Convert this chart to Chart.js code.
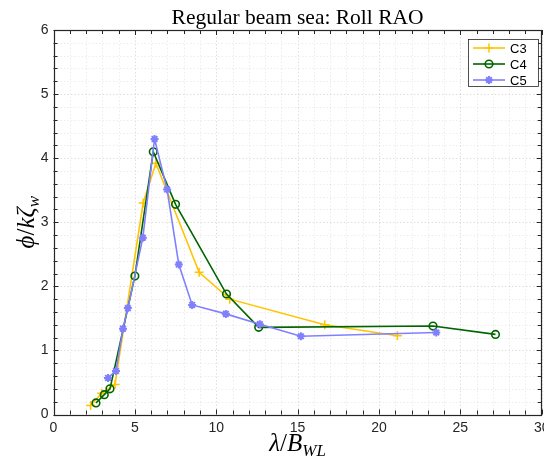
<!DOCTYPE html>
<html>
<head>
<meta charset="utf-8">
<script src="https://cdn.jsdelivr.net/npm/chart.js@4/dist/chart.umd.min.js"></script>
<style>
  html, body { margin: 0; padding: 0; background: #fff; }
  #wrap { width: 544px; height: 460px; }
</style>
</head>
<body>
<div id="wrap"><canvas id="c" width="544" height="460"></canvas></div>
<script>
// Roll RAO in regular beam sea, three configurations
const seriesNames = ['C3', 'C4', 'C5'];

const c3X = [2.28, 2.96, 3.78, 5.51, 6.29, 8.95, 10.83, 16.67, 21.13];
const c3Y = [0.14, 0.33, 0.47, 3.30, 3.92, 2.22, 1.80, 1.40, 1.23];

const c4X = [2.61, 3.12, 3.47, 5.00, 6.13, 7.50, 10.63, 12.61, 23.32, 27.16];
const c4Y = [0.18, 0.31, 0.40, 2.16, 4.10, 3.28, 1.88, 1.36, 1.38, 1.25];

const c5X = [3.35, 3.84, 4.27, 4.57, 5.49, 6.21, 6.98, 7.70, 8.52, 10.59, 12.68, 15.20, 23.52];
const c5Y = [0.57, 0.68, 1.34, 1.66, 2.76, 4.30, 3.51, 2.34, 1.71, 1.57, 1.41, 1.22, 1.28];

const xTicks = [0, 5, 10, 15, 20, 25, 30];
const yTicks = [0, 1, 2, 3, 4, 5, 6];
const xMinorStep = 1;
const yMinorStep = 0.2;

const titleText = 'Regular beam sea: Roll RAO';

const AXIS = '#262626';
const SANS = '"Liberation Sans", Arial, sans-serif';
const SERIF = '"Liberation Serif", "DejaVu Serif", serif';

function pts(xs, ys) { return xs.map((x, i) => ({ x: x, y: ys[i] })); }

const styles = [
  { color: 'rgb(255,196,0)', pointStyle: 'cross', radius: 4.5, pw: 1.5, fill: false },
  { color: 'rgb(0,100,0)',   pointStyle: 'circle', radius: 3.8, pw: 1.6, fill: false },
  { color: 'rgb(128,128,255)', pointStyle: 'star', radius: 4, pw: 2, fill: true }
];
const seriesData = [pts(c3X, c3Y), pts(c4X, c4Y), pts(c5X, c5Y)];

const datasets = seriesNames.map((name, i) => ({
  label: name,
  data: seriesData[i],
  borderColor: styles[i].color,
  backgroundColor: styles[i].fill ? styles[i].color : 'rgba(0,0,0,0)',
  pointBorderColor: styles[i].color,
  pointBackgroundColor: styles[i].fill ? styles[i].color : 'rgba(0,0,0,0)',
  borderWidth: 1.6,
  pointStyle: styles[i].pointStyle,
  pointRadius: styles[i].radius,
  pointBorderWidth: styles[i].pw,
  pointHoverRadius: styles[i].radius,
  tension: 0,
  fill: false,
  order: 3 - i
}));

function range(min, max, step) {
  const out = [];
  for (let v = min; v <= max + 1e-9; v += step) out.push(Math.round(v * 1000) / 1000);
  return out;
}

const framePlugin = {
  id: 'frame',
  beforeDatasetsDraw(chart) {
    const { ctx, chartArea: a, scales: { x, y } } = chart;
    ctx.save();
    ctx.lineWidth = 0.8;
    ctx.setLineDash([1.5, 2]);
    // minor grid
    ctx.strokeStyle = 'rgba(0,0,0,0.09)';
    range(0, 30, xMinorStep).forEach(v => {
      if (xTicks.includes(v)) return;
      const px = Math.round(x.getPixelForValue(v)) + 0.5;
      ctx.beginPath(); ctx.moveTo(px, a.top); ctx.lineTo(px, a.bottom); ctx.stroke();
    });
    range(0, 6, yMinorStep).forEach(v => {
      if (yTicks.includes(v)) return;
      const py = Math.round(y.getPixelForValue(v)) + 0.5;
      ctx.beginPath(); ctx.moveTo(a.left, py); ctx.lineTo(a.right, py); ctx.stroke();
    });
    // major grid
    ctx.strokeStyle = 'rgba(0,0,0,0.16)';
    xTicks.forEach(v => {
      const px = Math.round(x.getPixelForValue(v)) + 0.5;
      ctx.beginPath(); ctx.moveTo(px, a.top); ctx.lineTo(px, a.bottom); ctx.stroke();
    });
    yTicks.forEach(v => {
      const py = Math.round(y.getPixelForValue(v)) + 0.5;
      ctx.beginPath(); ctx.moveTo(a.left, py); ctx.lineTo(a.right, py); ctx.stroke();
    });
    ctx.restore();
  },
  afterDatasetsDraw(chart) {
    const { ctx, chartArea: a, scales: { x, y } } = chart;
    ctx.save();
    ctx.strokeStyle = AXIS;
    ctx.lineWidth = 1;
    ctx.setLineDash([]);
    // tick marks pointing inward on all four sides
    const tickX = (v, len) => {
      const px = Math.round(x.getPixelForValue(v)) + 0.5;
      ctx.beginPath();
      ctx.moveTo(px, a.bottom); ctx.lineTo(px, a.bottom - len);
      ctx.moveTo(px, a.top); ctx.lineTo(px, a.top + len);
      ctx.stroke();
    };
    const tickY = (v, len) => {
      const py = Math.round(y.getPixelForValue(v)) + 0.5;
      ctx.beginPath();
      ctx.moveTo(a.left, py); ctx.lineTo(a.left + len, py);
      ctx.moveTo(a.right, py); ctx.lineTo(a.right - len, py);
      ctx.stroke();
    };
    range(0, 30, xMinorStep).forEach(v => tickX(v, xTicks.includes(v) ? 5 : 4));
    range(0, 6, yMinorStep).forEach(v => tickY(v, yTicks.includes(v) ? 5 : 4));
    // box
    ctx.lineWidth = 1.2;
    ctx.strokeRect(Math.round(a.left) + 0.5, Math.round(a.top) + 0.5,
      Math.round(a.right - a.left) - 1, Math.round(a.bottom - a.top));
    ctx.restore();

    drawLegend(chart);
  },
  afterDraw(chart) {
    const { ctx, chartArea: a } = chart;
    ctx.save();
    ctx.fillStyle = '#000';
    // title
    ctx.font = '21.5px ' + SERIF;
    ctx.textAlign = 'center';
    ctx.textBaseline = 'alphabetic';
    ctx.fillText(titleText, (a.left + a.right) / 2, 24);

    // x axis label: λ/B_WL
    drawMath(ctx, [
      { t: 'λ', it: true, s: 25 },
      { t: '/', it: false, s: 25 },
      { t: 'B', it: true, s: 25 },
      { t: 'WL', it: true, s: 17, sub: true }
    ], (a.left + a.right) / 2, 451, 0);

    // y axis label: ϕ/kζ_w
    drawMath(ctx, [
      { t: 'ϕ', it: true, s: 25 },
      { t: '/', it: false, s: 25 },
      { t: 'kζ', it: true, s: 25 },
      { t: 'w', it: true, s: 17, sub: true }
    ], 34, (a.top + a.bottom) / 2, -Math.PI / 2);
    ctx.restore();
  }
};

function drawMath(ctx, parts, cx, cy, rot) {
  ctx.save();
  ctx.translate(cx, cy);
  ctx.rotate(rot);
  ctx.textAlign = 'left';
  ctx.textBaseline = 'alphabetic';
  const fontOf = p => (p.it ? 'italic ' : '') + p.s + 'px ' + SERIF;
  let total = 0;
  parts.forEach(p => { ctx.font = fontOf(p); total += ctx.measureText(p.t).width; });
  let xx = -total / 2;
  parts.forEach(p => {
    ctx.font = fontOf(p);
    ctx.fillText(p.t, xx, p.sub ? 5 : 0);
    xx += ctx.measureText(p.t).width;
  });
  ctx.restore();
}

function drawLegend(chart) {
  const { ctx } = chart;
  const box = { l: 468, t: 39, r: 538, b: 86 };
  ctx.save();
  ctx.fillStyle = '#fff';
  ctx.fillRect(box.l, box.t, box.r - box.l, box.b - box.t);
  ctx.strokeStyle = AXIS;
  ctx.lineWidth = 0.8;
  ctx.strokeRect(box.l + 0.5, box.t + 0.5, box.r - box.l, box.b - box.t);
  chart.data.datasets.forEach((ds, i) => {
    const yy = 48 + i * 16;
    ctx.strokeStyle = ds.borderColor;
    ctx.lineWidth = ds.borderWidth;
    ctx.beginPath(); ctx.moveTo(473, yy); ctx.lineTo(505, yy); ctx.stroke();
    ctx.fillStyle = ds.pointBackgroundColor;
    ctx.strokeStyle = ds.pointBorderColor;
    ctx.lineWidth = ds.pointBorderWidth;
    Chart.helpers.drawPoint(ctx, {
      pointStyle: ds.pointStyle, radius: ds.pointRadius, borderWidth: ds.pointBorderWidth, rotation: 0
    }, 489, yy);
    ctx.fillStyle = '#000';
    ctx.font = '13px ' + SANS;
    ctx.textAlign = 'left';
    ctx.textBaseline = 'middle';
    ctx.fillText(ds.label, 510, yy + 1);
  });
  ctx.restore();
}

new Chart(document.getElementById('c'), {
  type: 'line',
  data: { datasets: datasets },
  options: {
    responsive: false,
    animation: false,
    layout: { autoPadding: false, padding: { top: 30, right: 2.3, left: 0, bottom: 0 } },
    plugins: { legend: { display: false }, title: { display: false }, tooltip: { enabled: false } },
    scales: {
      x: {
        type: 'linear', min: 0, max: 30,
        afterBuildTicks: s => { s.ticks = xTicks.map(v => ({ value: v })); },
        afterFit: s => { s.height = 45.5; s.paddingLeft = 0; s.paddingRight = 0; },
        grid: { display: false, drawTicks: false },
        border: { display: false },
        ticks: { color: AXIS, font: { family: SANS, size: 14 }, padding: 5, maxRotation: 0, autoSkip: false }
      },
      y: {
        type: 'linear', min: 0, max: 6,
        afterBuildTicks: s => { s.ticks = yTicks.map(v => ({ value: v })); },
        afterFit: s => { s.width = 53.5; s.paddingTop = 0; s.paddingBottom = 0; },
        grid: { display: false, drawTicks: false },
        border: { display: false },
        ticks: { color: AXIS, font: { family: SANS, size: 14 }, padding: 5 }
      }
    }
  },
  plugins: [framePlugin]
});
</script>
</body>
</html>
